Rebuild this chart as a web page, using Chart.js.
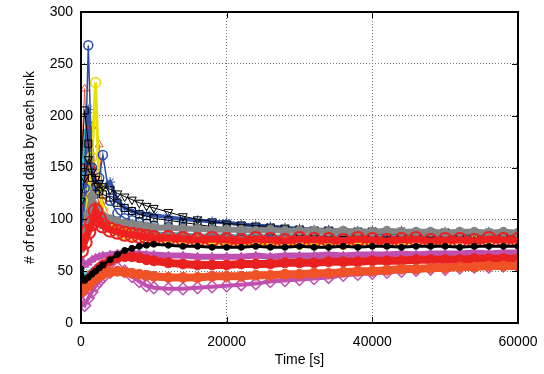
<!DOCTYPE html>
<html>
<head>
<meta charset="utf-8">
<script src="https://cdn.jsdelivr.net/npm/chart.js@4"></script>
<style>
  html, body { margin: 0; padding: 0; background: #fff; }
  #wrap { width: 544px; height: 374px; }
</style>
</head>
<body>
<div id="wrap"><canvas id="myChart" width="544" height="374"></canvas></div>
<script>
// sample times (s)
const times = [0, 500, 1000, 1500, 2000, 2500, 3000, 4000, 5000, 6000, 7000, 8000, 9000, 10000,
    12000, 14000, 16000, 18000, 20000, 22000, 24000, 26000, 28000, 30000, 32000, 34000, 36000,
    38000, 40000, 42000, 44000, 46000, 48000, 50000, 52000, 54000, 56000, 58000, 60000];

const xTicks = [0, 20000, 40000, 60000];
const yTicks = [0, 50, 100, 150, 200, 250, 300];

// received data per sink (one array per sink)
const blueCircles = [80, 130, 268, 150, 125, 140, 162, 118, 106, 101, 99, 97, 96, 94, 93, 92, 91, 90, 90, 89, 89, 88, 89, 88, 87, 88, 87, 87, 86, 87, 86, 86, 87, 86, 86, 85, 86, 85, 85];
const yellowCircles = [78, 92, 125, 160, 232, 130, 108, 96, 90, 86, 84, 82, 81, 80, 79, 78, 78, 77, 77, 76, 77, 76, 77, 76, 76, 77, 76, 77, 77, 78, 77, 78, 78, 77, 78, 79, 78, 79, 79];
const orangeTri = [150, 226, 140, 118, 128, 172, 118, 100, 93, 89, 87, 86, 85, 84, 84, 83, 83, 83, 82, 82, 83, 82, 82, 81, 82, 82, 81, 82, 81, 82, 82, 81, 82, 82, 81, 82, 82, 81, 82];
const redTri = [105, 125, 150, 190, 135, 112, 102, 95, 91, 89, 88, 87, 86, 86, 85, 85, 84, 84, 84, 83, 84, 83, 83, 84, 83, 83, 83, 84, 83, 83, 84, 83, 83, 84, 83, 83, 84, 83, 83];
const blueStars = [75, 110, 206, 150, 128, 132, 130, 136, 118, 111, 108, 106, 105, 104, 102, 100, 99, 98, 97, 95, 94, 93, 92, 91, 90, 90, 89, 89, 89, 88, 89, 88, 88, 88, 88, 87, 88, 87, 87];
const cyanSpike = [120, 183, 150, 122, 110, 104, 100, 96, 93, 91, 89, 88, 87, 87, 86, 86, 85, 85, 85, 84, 85, 84, 84, 85, 84, 84, 85, 84, 84, 85, 84, 84, 85, 84, 84, 85, 84, 84, 84];
const greenTri = [95, 170, 135, 112, 102, 96, 93, 90, 88, 87, 86, 86, 85, 85, 85, 84, 84, 84, 84, 83, 84, 83, 84, 83, 84, 84, 83, 84, 84, 83, 84, 84, 83, 84, 84, 84, 83, 84, 84];
const blackSquares = [150, 205, 173, 140, 131, 127, 124, 121, 116, 111, 108, 105, 103, 101, 99, 97, 95, 93, 92, 91, 90, 89, 89, 88, 88, 87, 87, 87, 86, 86, 86, 86, 86, 85, 85, 85, 85, 85, 85];
const blackTriDown = [118, 140, 158, 146, 139, 135, 132, 129, 125, 122, 119, 116, 113, 111, 107, 103, 100, 98, 96, 95, 94, 93, 92, 91, 90, 90, 89, 89, 89, 88, 88, 88, 88, 88, 87, 87, 87, 87, 87];
const grayDots = [72, 85, 105, 122, 112, 106, 103, 100, 98, 96, 95, 94, 93, 92, 92, 91, 91, 90, 90, 90, 89, 90, 89, 89, 89, 88, 89, 88, 88, 89, 88, 88, 88, 87, 88, 88, 87, 88, 87];
const redCircles = [70, 78, 88, 96, 108, 100, 94, 90, 88, 86, 85, 84, 83, 82, 82, 81, 80, 81, 80, 79, 81, 80, 79, 81, 80, 80, 79, 81, 80, 79, 80, 81, 79, 80, 80, 79, 81, 80, 80];
const blackDots = [52, 41, 44, 47, 50, 53, 56, 61, 66, 70, 72, 74, 75, 76, 75, 74, 74, 73, 73, 73, 74, 73, 73, 74, 73, 73, 74, 73, 74, 74, 73, 74, 74, 74, 73, 74, 74, 74, 74];
const magentaTri = [62, 56, 58, 61, 63, 64, 65, 66, 67, 68, 67, 67, 66, 66, 65, 65, 64, 64, 64, 64, 65, 64, 65, 65, 65, 66, 65, 66, 66, 66, 67, 66, 67, 67, 67, 68, 67, 68, 68];
const cyanLine = [55, 47, 50, 52, 55, 57, 58, 60, 62, 62, 61, 60, 59, 58, 57, 57, 57, 58, 58, 59, 60, 60, 61, 62, 62, 63, 63, 64, 64, 65, 65, 66, 66, 66, 67, 67, 67, 68, 68];
const redBand = [30, 36, 42, 46, 50, 53, 56, 60, 63, 64, 64, 63, 61, 60, 58, 57, 56, 56, 56, 57, 57, 57, 58, 58, 58, 59, 59, 59, 60, 60, 60, 61, 61, 61, 61, 62, 62, 62, 62];
const orangeLow = [30, 33, 36, 40, 43, 45, 47, 49, 50, 49, 48, 47, 46, 45, 44, 44, 44, 45, 45, 45, 46, 46, 47, 47, 48, 48, 49, 50, 50, 51, 52, 52, 53, 53, 54, 54, 55, 55, 55];
const purpleDiamonds = [20, 17, 24, 30, 36, 40, 44, 49, 53, 50, 45, 40, 36, 34, 33, 33, 34, 35, 36, 37, 38, 40, 41, 42, 43, 44, 46, 47, 48, 49, 50, 51, 52, 52, 53, 54, 54, 55, 55];

function pts(vals) {
    return vals.map(function(v, i) { return { x: times[i], y: v }; });
}

function series(vals, color, style, opts) {
    let ds = {
        data: pts(vals),
        borderColor: color,
        borderWidth: 1,
        pointStyle: style,
        pointRadius: 4,
        pointBorderColor: color,
        pointBorderWidth: 1,
        pointBackgroundColor: 'rgba(0,0,0,0)',
        tension: 0
    };
    return Object.assign(ds, opts || {});
}

// first dataset is drawn on top
const datasets = [
    series(blackDots, '#000000', 'circle', { pointRadius: 3, pointBackgroundColor: '#000000', borderWidth: 3 }),
    series(redCircles, '#ee2020', 'circle', { pointRadius: 7, pointBorderWidth: 2, borderWidth: 7 }),
    series(grayDots, '#858585', 'circle', { pointRadius: 4.5, pointBackgroundColor: '#858585', borderWidth: 6 }),
    series(orangeLow, '#f05228', 'circle', { pointRadius: 5, pointBackgroundColor: '#f05228', borderWidth: 8 }),
    series(redBand, '#e82020', 'circle', { pointRadius: 5, pointBackgroundColor: '#e82020', borderWidth: 8 }),
    series(magentaTri, '#c050b0', 'triangle', { pointRadius: 4.5, pointBackgroundColor: '#c050b0', borderWidth: 6 }),
    series(blackTriDown, '#000000', 'triangle', { pointRadius: 5, rotation: 180 }),
    series(blackSquares, '#000000', 'rect', { pointRadius: 5 }),
    series(blueCircles, '#2a4ca8', 'circle', { pointRadius: 4.5, pointBorderWidth: 1.5, borderWidth: 1.5 }),
    series(yellowCircles, '#e8e000', 'circle', { pointRadius: 5, pointBorderWidth: 1.5, borderWidth: 3 }),
    series(orangeTri, '#f05228', 'triangle', { pointRadius: 4.5 }),
    series(redTri, '#e02828', 'triangle', { pointRadius: 4.5 }),
    series(blueStars, '#3355aa', 'star', { pointRadius: 5, borderWidth: 4 }),
    series(cyanSpike, '#30b4d0', 'circle', { pointRadius: 4, pointBackgroundColor: '#30b4d0', borderWidth: 3 }),
    series(greenTri, '#48a038', 'triangle', { pointRadius: 4, pointBackgroundColor: '#48a038', borderWidth: 3 }),
    series(cyanLine, '#58c0e0', 'crossRot', { pointRadius: 3, borderWidth: 2 }),
    series(purpleDiamonds, '#c050b0', 'rectRot', { pointRadius: 6, pointBorderWidth: 1.5, borderWidth: 4 })
];

// gnuplot style frame with inward ticks on all four sides
const framePlugin = {
    id: 'frame',
    afterDatasetsDraw: function(chart) {
        const c = chart.ctx;
        const a = chart.chartArea;
        const xs = chart.scales.x;
        const ys = chart.scales.y;
        c.save();
        c.strokeStyle = '#000';
        c.lineWidth = 1;
        c.beginPath();
        xTicks.forEach(function(t) {
            const px = Math.round(xs.getPixelForValue(t)) + 0.5;
            c.moveTo(px, a.bottom); c.lineTo(px, a.bottom - 6);
            c.moveTo(px, a.top); c.lineTo(px, a.top + 6);
        });
        yTicks.forEach(function(t) {
            const py = Math.round(ys.getPixelForValue(t)) + 0.5;
            c.moveTo(a.left, py); c.lineTo(a.left + 6, py);
            c.moveTo(a.right, py); c.lineTo(a.right - 6, py);
        });
        c.stroke();
        c.lineWidth = 2;
        c.strokeRect(a.left, a.top, a.right - a.left, a.bottom - a.top);
        c.restore();
    }
};

const ctx = document.getElementById('myChart').getContext('2d');
const myChart = new Chart(ctx, {
    type: 'line',
    data: { datasets: datasets },
    options: {
        responsive: false,
        animation: false,
        events: [],
        layout: { padding: { left: 0, right: 26, top: 12, bottom: 0 } },
        plugins: {
            legend: { display: false },
            tooltip: { enabled: false }
        },
        scales: {
            x: {
                type: 'linear',
                min: 0,
                max: 60000,
                afterBuildTicks: function(scale) {
                    scale.ticks = xTicks.map(function(v) { return { value: v }; });
                },
                afterFit: function(scale) {
                    scale.height = 51;
                    scale.paddingLeft = 0;
                    scale.paddingRight = 0;
                },
                ticks: {
                    color: '#000',
                    font: { family: 'Liberation Sans', size: 14 },
                    maxRotation: 0,
                    padding: 11,
                    callback: function(v) { return String(v); }
                },
                grid: { color: '#777', lineWidth: 1, drawTicks: false },
                border: { display: false, dash: [1, 2] },
                title: {
                    display: true,
                    text: 'Time [s]',
                    color: '#000',
                    font: { family: 'Liberation Sans', size: 14 },
                    padding: { top: 2, bottom: 5 }
                }
            },
            y: {
                min: 0,
                max: 300,
                afterBuildTicks: function(scale) {
                    scale.ticks = yTicks.map(function(v) { return { value: v }; });
                },
                afterFit: function(scale) {
                    scale.width = 81;
                    scale.paddingTop = 0;
                    scale.paddingBottom = 0;
                },
                ticks: {
                    color: '#000',
                    font: { family: 'Liberation Sans', size: 14 },
                    padding: 8
                },
                grid: { color: '#777', lineWidth: 1, drawTicks: false },
                border: { display: false, dash: [1, 2] },
                title: {
                    display: true,
                    text: '# of received data by each sink',
                    color: '#000',
                    font: { family: 'Liberation Sans', size: 14 },
                    padding: { top: 22, bottom: 0 }
                }
            }
        }
    },
    plugins: [framePlugin]
});
</script>
</body>
</html>
